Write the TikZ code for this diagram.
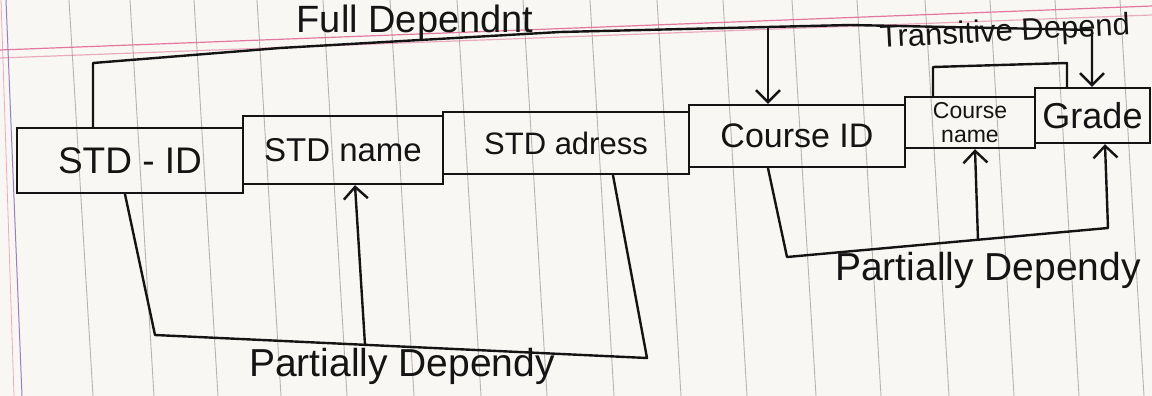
\documentclass[tikz,border=0pt]{standalone}
\usepackage{fontspec}
\setmainfont{Liberation Sans}
\usetikzlibrary{arrows.meta}
\definecolor{ink}{HTML}{141414}
\definecolor{paper}{HTML}{F8F7F3}
\definecolor{rule}{HTML}{B8B2B0}
\definecolor{pinkrule}{HTML}{E2789F}
\definecolor{purplerule}{HTML}{9A7FC0}
\tikzset{
  box/.style={draw=ink, line width=2.4pt, inner sep=0pt, align=center, text=ink},
  link/.style={draw=ink, line width=2.4pt, line join=round, line cap=round},
  tip/.style={-{Straight Barb[length=12pt,width=24pt,line width=2.4pt]}},
  lbl/.style={inner sep=0pt, text=ink},
  paperline/.style={draw=rule, line width=0.9pt},
  redline/.style={draw=pinkrule, line width=1.2pt}
}
\begin{document}
\begin{tikzpicture}[x=1pt,y=-1pt]
\useasboundingbox (0,0) rectangle (1152,396);
\fill[paper] (0,0) rectangle (1152,396);
% ruled paper
\foreach \xx in {69,130,194,257,323,390,457,523,590,657,723,792,857,925,990,1055,1120}
  \draw[paperline] (\xx,0) -- (\xx+24,396);
\draw[redline] (0,50) -- (1152,6);
\draw[redline, draw opacity=0.6] (0,58) -- (1152,15);
\draw[draw=purplerule, line width=1pt] (6,0) -- (22,396);
\draw[draw=pinkrule, line width=0.8pt, draw opacity=0.6] (1,0) -- (14,396);

% attribute boxes
\node[box, minimum width=226pt, minimum height=65pt, font=\fontsize{37}{40}\selectfont] (sid)   at (130,160.5) {STD - ID};
\node[box, minimum width=200pt, minimum height=68pt, font=\fontsize{33}{36}\selectfont] (sname) at (343,150)   {STD name};
\node[box, minimum width=246pt, minimum height=62pt, font=\fontsize{31}{34}\selectfont] (sadr)  at (566,143)   {STD adress};
\node[box, minimum width=216pt, minimum height=62pt, font=\fontsize{34}{36}\selectfont] (cid)   at (797,136)   {Course ID};
\node[box, minimum width=130pt, minimum height=51pt, font=\fontsize{23}{24}\selectfont] (cname) at (970,122.5) {Course\\name};
\node[box, minimum width=115pt, minimum height=55pt, font=\fontsize{36}{38}\selectfont] (grade) at (1092.5,115.5) {Grade};

% labels
\node[lbl, font=\fontsize{38}{40}\selectfont] (ttl) at (415,23) {Full Dependnt};
\node[lbl, rotate=3, font=\fontsize{31}{32}\selectfont] (ttr) at (1005,33) {Transitive Depend};
\node[lbl, font=\fontsize{39}{40}\selectfont] (lp) at (402,366) {Partially Dependy};
\node[lbl, font=\fontsize{39}{40}\selectfont] (rp) at (988,270) {Partially Dependy};

% full dependency
\coordinate (fl) at (93,63);
\coordinate (f1) at (280,48);
\coordinate (f2) at (560,32);
\coordinate (f3) at (850,25);
\coordinate (fr) at (1092,30);
\coordinate (fc) at (768,27);
\draw[link, tip] (sid.north -| fl) -- (fl) -- (f1) -- (f2) -- (f3) -- (fr) -- (grade.north -| fr);
\draw[link, tip] (fc) -- (cid.north -| fc);

% transitive dependency
\coordinate (t1) at (933,67);
\coordinate (t2) at (1067,63);
\draw[link] (cname.north -| t1) -- (t1) -- (t2) -- (grade.north -| t2);

% partial dependency (left)
\coordinate (ps) at (125,0);
\coordinate (p1) at (155,335);
\coordinate (p2) at (647,358);
\coordinate (pe) at (613,0);
\coordinate (pa) at (365,345);
\coordinate (pn) at (355,0);
\draw[link] (sid.south -| ps) -- (p1) -- (p2) -- (sadr.south -| pe);
\draw[link, tip] (pa) -- (sname.south -| pn);

% partial dependency (right)
\coordinate (qs) at (768,0);
\coordinate (q1) at (787,257);
\coordinate (q2) at (1108,228);
\coordinate (qe) at (1105,0);
\coordinate (qa) at (978,240);
\coordinate (qn) at (975,0);
\draw[link, tip] (cid.south -| qs) -- (q1) -- (q2) -- (grade.south -| qe);
\draw[link, tip] (qa) -- (cname.south -| qn);
\end{tikzpicture}
\end{document}
